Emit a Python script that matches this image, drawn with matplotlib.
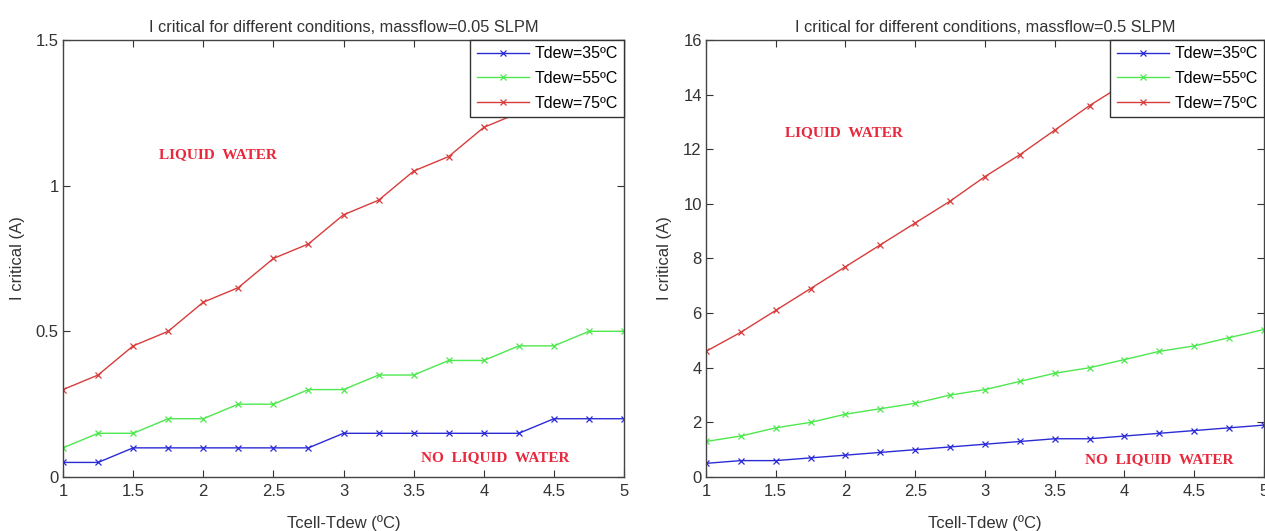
import numpy as np
import matplotlib
matplotlib.use("Agg")
import matplotlib.pyplot as plt

plt.rcParams['font.family'] = ['Liberation Sans', 'DejaVu Sans']

# data
dT = [1, 1.25, 1.5, 1.75, 2, 2.25, 2.5, 2.75, 3, 3.25, 3.5, 3.75, 4, 4.25, 4.5, 4.75, 5]

# massflow = 0.05 SLPM
low_35 = [0.05, 0.05, 0.1, 0.1, 0.1, 0.1, 0.1, 0.1, 0.15, 0.15, 0.15, 0.15, 0.15, 0.15, 0.2, 0.2, 0.2]
low_55 = [0.1, 0.15, 0.15, 0.2, 0.2, 0.25, 0.25, 0.3, 0.3, 0.35, 0.35, 0.4, 0.4, 0.45, 0.45, 0.5, 0.5]
low_75 = [0.3, 0.35, 0.45, 0.5, 0.6, 0.65, 0.75, 0.8, 0.9, 0.95, 1.05, 1.1, 1.2, 1.25, 1.35, 1.4, 1.5]

# massflow = 0.5 SLPM
high_35 = [0.5, 0.6, 0.6, 0.7, 0.8, 0.9, 1.0, 1.1, 1.2, 1.3, 1.4, 1.4, 1.5, 1.6, 1.7, 1.8, 1.9]
high_55 = [1.3, 1.5, 1.8, 2.0, 2.3, 2.5, 2.7, 3.0, 3.2, 3.5, 3.8, 4.0, 4.3, 4.6, 4.8, 5.1, 5.4]
high_75 = [4.6, 5.3, 6.1, 6.9, 7.7, 8.5, 9.3, 10.1, 11.0, 11.8, 12.7, 13.6, 14.4, 15.3, 16.2, 17.1, 18.0]

labels = ['Tdew=35ºC', 'Tdew=55ºC', 'Tdew=75ºC']
colors = ['#2b2bd6', '#4de84d', '#d83c3c']

fig = plt.figure(figsize=(12.65, 5.31), dpi=100)
ax1 = fig.add_axes([0.0498, 0.1017, 0.4435, 0.823])
ax2 = fig.add_axes([0.5581, 0.1017, 0.4411, 0.823])

# (axes, series, title suffix, ymax, yticks, yticklabels, ylabel x,
#  LIQUID WATER pos, NO LIQUID WATER pos)
panels = [
    (ax1, [low_35, low_55, low_75], 'massflow=0.05 SLPM', 1.5, [0, 0.5, 1, 1.5], ['0', '0.5', '1', '1.5'],
     -0.068, (2.105, 1.105), (4.08, 0.065)),
    (ax2, [high_35, high_55, high_75], 'massflow=0.5 SLPM', 16, list(range(0, 17, 2)), None,
     -0.061, (1.99, 12.6), (4.25, 0.62)),
]

for ax, series, flow, ymax, yt, ytl, ylx, liq, noliq in panels:
    for vals, lab, c in zip(series, labels, colors):
        ax.plot(dT, vals, color=c, lw=1.0, marker='x', ms=5, mew=0.9, label=lab)
    ax.set_xlim(1, 5)
    ax.set_ylim(0, ymax)
    ax.set_xticks([1, 1.5, 2, 2.5, 3, 3.5, 4, 4.5, 5])
    ax.set_xticklabels(['1', '1.5', '2', '2.5', '3', '3.5', '4', '4.5', '5'])
    ax.set_yticks(yt)
    if ytl:
        ax.set_yticklabels(ytl)
    ax.tick_params(direction='in', top=True, right=True, labelsize=12, length=5, colors='#333333')
    ax.tick_params(axis='y', pad=3)
    ax.tick_params(axis='x', pad=5)
    for s in ax.spines.values():
        s.set_color('#444444')
        s.set_linewidth(1.0)
    ax.set_title('I critical for different conditions, ' + flow, fontsize=11.8, color='#333333', pad=6)
    ax.set_xlabel('Tcell-Tdew (ºC)', fontsize=12, color='#333333')
    ax.xaxis.set_label_coords(0.5, -0.088)
    ax.set_ylabel('I critical (A)', fontsize=12, color='#333333')
    ax.yaxis.set_label_coords(ylx, 0.5)
    ax.text(liq[0], liq[1], 'LIQUID  WATER', color='#e8283c', fontsize=11, fontweight='bold',
            family='Liberation Serif', ha='center', va='center')
    ax.text(noliq[0], noliq[1], 'NO  LIQUID  WATER', color='#e8283c', fontsize=11, fontweight='bold',
            family='Liberation Serif', ha='center', va='center')
    leg = ax.legend(loc='upper right', fontsize=11.5, handlelength=3.3, numpoints=1,
                    fancybox=False, framealpha=1, edgecolor='#333333', borderaxespad=0,
                    labelspacing=0.6, borderpad=0.4, handletextpad=0.3)
    leg.get_frame().set_linewidth(1.0)

fig.savefig('out.png', dpi=100)
